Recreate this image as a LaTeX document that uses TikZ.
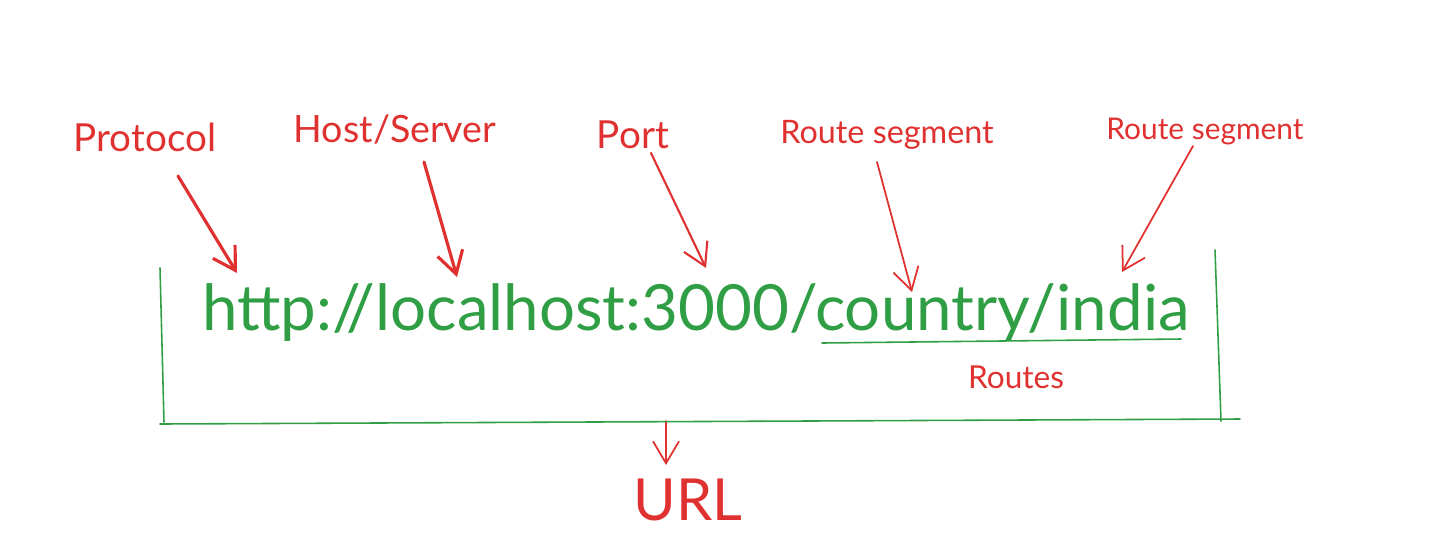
\documentclass[tikz,border=0pt]{standalone}
\usepackage{fontspec}
\setmainfont{Lato}
\usetikzlibrary{arrows.meta}
\definecolor{urlred}{HTML}{E03131}
\definecolor{urlgreen}{HTML}{2F9E44}

\begin{document}
\begin{tikzpicture}[x=0.1mm, y=-0.1mm,
 every node/.style={inner sep=0pt, anchor=base},
 lbl/.style={text=urlred, font=\fontsize{11}{13}\selectfont},
 sublbl/.style={text=urlred, font=\fontsize{9.2}{11}\selectfont},
 pointer/.style={-{Straight Barb[length=2.2mm,width=2.6mm]}, draw=urlred, line width=0.6pt, line cap=round},
 bold pointer/.style={pointer, line width=0.9pt},
 bracket/.style={draw=urlgreen, line width=0.45pt, line cap=round}]
\useasboundingbox (0,0) rectangle (1437,539);
% labels
\node[lbl] (protocol) at (145,151) {Protocol};
\node[lbl, font=\fontsize{10.7}{13}\selectfont] (host) at (395,142) {Host/Server};
\node[lbl] (port) at (633,148) {Port};
\node[sublbl] (segone) at (887,143) {Route segment};
\node[sublbl, font=\fontsize{8.5}{10}\selectfont] (segtwo) at (1205,139) {Route segment};
\node[sublbl, font=\fontsize{9}{10}\selectfont] (routes) at (1016,388) {Routes};
\node[text=urlgreen, font=\fontsize{18.1}{22}\selectfont] (address) at (696,330) {http://localhost:3000/country/india};
\node[lbl, font=\fontsize{16.5}{19}\selectfont] (url) at (688,520) {URL};
% tails and tips
\coordinate (protocol tail) at (178,176); \coordinate (protocol tip) at (237,273);
\coordinate (host tail) at (424,162); \coordinate (host tip) at (457,277);
\coordinate (port tail) at (651,153); \coordinate (port tip) at (706,268);
\coordinate (segone tail) at (877,162); \coordinate (segone tip) at (912,292);
\coordinate (segtwo tail) at (1193,146); \coordinate (segtwo tip) at (1122,272);
\coordinate (url tail) at (666,421); \coordinate (url tip) at (666,465);
\draw[bold pointer] (protocol tail) -- (protocol tip);
\draw[bold pointer] (host tail) -- (host tip);
\draw[pointer] (port tail) -- (port tip);
\draw[pointer, line width=0.5pt] (segone tail) -- (segone tip);
\draw[pointer, line width=0.5pt] (segtwo tail) -- (segtwo tip);
\draw[pointer, line width=0.5pt] (url tail) -- (url tip);
% bracket round the address
\coordinate (bl) at (160,424); \coordinate (br) at (1240,419);
\draw[bracket] (160,268) -- (164,422);
\draw[bracket] (1215,250) -- (1221,421);
\draw[bracket] (bl) -- (br);
\draw[bracket] (822,343) -- (1181,339);
\end{tikzpicture}
\end{document}
